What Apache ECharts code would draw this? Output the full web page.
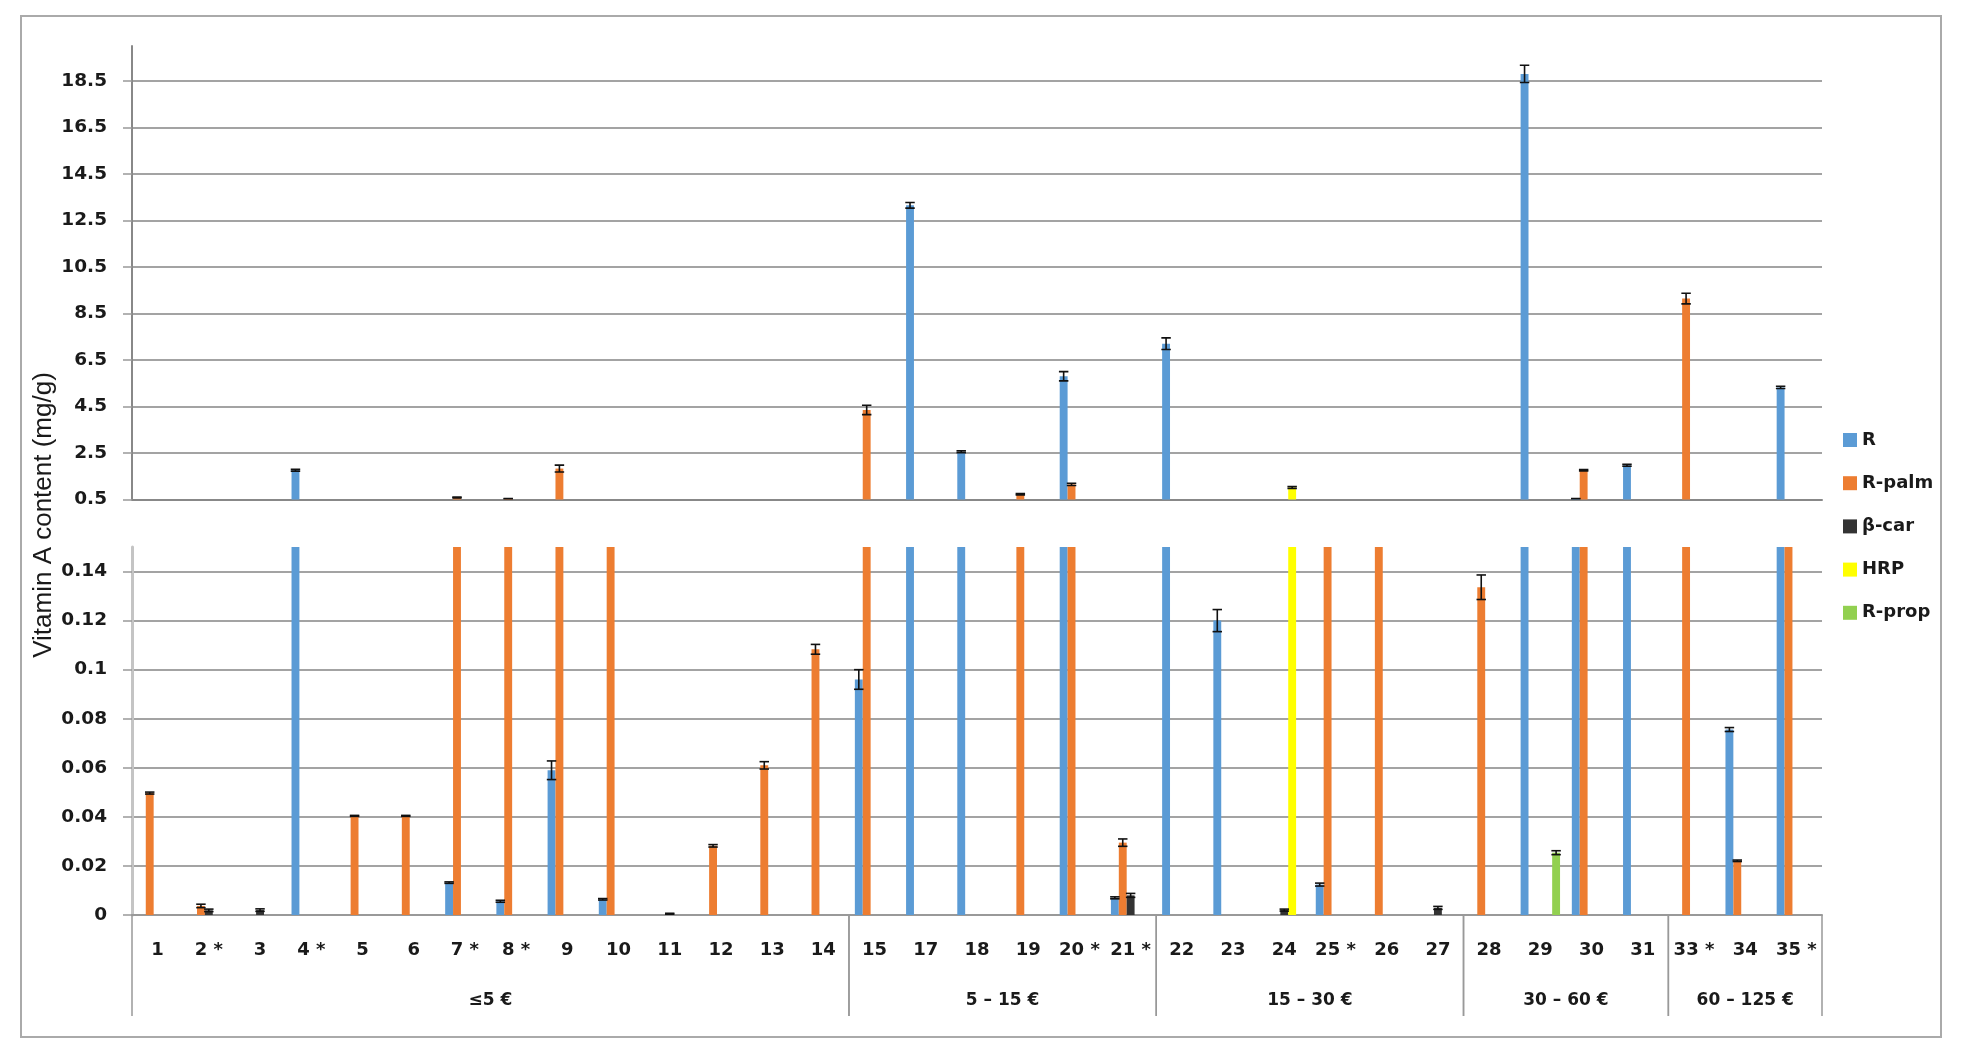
<!DOCTYPE html>
<html><head><meta charset="utf-8">
<script src="https://cdn.jsdelivr.net/npm/echarts@6/dist/echarts.min.js"></script>
<style>html,body{margin:0;padding:0;background:#fff}#c{width:1966px;height:1054px}</style>
</head><body><div id="c"></div>
<script>
// ---- data ----
const categories = ['1','2 *','3','4 *','5','6','7 *','8 *','9','10','11','12','13','14','15','17','18','19','20 *','21 *','22','23','24','25 *','26','27','28','29','30','31','33 *','34','35 *'];
const groupNames = ['≤5 €','5 – 15 €','15 – 30 €','30 – 60 €','60 – 125 €'];
const groupStart = [0,14,20,26,30];
const groupEnd   = [13,19,25,29,32];
const seriesNames = ['R','R-palm','β-car','HRP','R-prop'];
const seriesColors = ['#5B9BD5','#ED7D31','#333333','#FFFF00','#92D050'];

const R        = [null,null,null,1.76,null,null,0.0132,0.0056,0.059,0.0064,null,null,null,null,0.096,13.15,2.55,null,5.8,0.007,7.2,0.12,null,0.0124,null,null,null,18.8,0.53,1.97,null,0.0756,5.32];
const R_err    = [null,null,null,0.04,null,null,0.0003,0.0004,0.0038,0.0003,null,null,null,null,0.004,0.12,0.04,null,0.2,0.0004,0.25,0.0045,null,0.0006,null,null,null,0.37,0.01,0.04,null,0.0008,0.05];
const Rpalm    = [0.0497,0.0037,null,null,0.0404,0.0404,0.59,0.53,1.83,0.3,null,0.0282,0.061,0.1083,4.35,null,null,0.73,1.15,0.0295,null,null,null,0.3,0.35,null,0.1336,null,1.76,null,9.14,0.0221,0.4];
const Rpalm_err= [0.0004,0.0007,null,null,0.0002,0.0002,0.02,0.01,0.15,0.005,null,0.0005,0.0015,0.002,0.2,null,null,0.03,0.05,0.0015,null,null,null,0.01,0.01,null,0.005,null,0.03,null,0.23,0.0003,0.01];
const Bcar     = [null,0.0019,0.002,null,null,null,null,null,null,null,0.0005,null,null,null,null,null,null,null,null,0.008,null,null,0.002,null,null,0.0029,null,null,null,null,null,null,null];
const Bcar_err = [null,0.0005,0.0005,null,null,null,null,null,null,null,0.0002,null,null,null,null,null,null,null,null,0.0008,null,null,0.0004,null,null,0.0006,null,null,null,null,null,null,null];
const HRP      = [null,null,null,null,null,null,null,null,null,null,null,null,null,null,null,null,null,null,null,null,null,null,1.02,null,null,null,null,null,null,null,null,null,null];
const HRP_err  = [null,null,null,null,null,null,null,null,null,null,null,null,null,null,null,null,null,null,null,null,null,null,0.04,null,null,null,null,null,null,null,null,null,null];
const Rprop    = [null,null,null,null,null,null,null,null,null,null,null,null,null,null,null,null,null,null,null,null,null,null,null,null,null,null,null,0.0254,null,null,null,null,null];
const Rprop_err= [null,null,null,null,null,null,null,null,null,null,null,null,null,null,null,null,null,null,null,null,null,null,null,null,null,null,null,0.0008,null,null,null,null,null];

const upperMin = 0.5, upperMax = 20, upperInterval = 2;
const lowerMin = 0, lowerMax = 0.15, lowerInterval = 0.02;

// ---- build ----
const values = [R, Rpalm, Bcar, HRP, Rprop];
const errs = [R_err, Rpalm_err, Bcar_err, HRP_err, Rprop_err];
const CAT_GAP = 0.23;
const NS = 5;

function errData(lo, hi) {
  const out = [];
  values.forEach((arr, s) => arr.forEach((v, i) => {
    const e = errs[s][i];
    if (v != null && e != null && v > lo && v < hi) out.push([i, v, e, s]);
  }));
  return out;
}
function renderErr(params, api) {
  const ci = api.value(0), v = api.value(1), e = api.value(2), s = api.value(3);
  const catW = api.size([1, 0])[0];
  const bw = catW * (1 - CAT_GAP) / NS;
  const x = api.coord([ci, v])[0] + (s - (NS - 1) / 2) * bw;
  const yT = api.coord([ci, v + e])[1];
  const yB = api.coord([ci, Math.max(v - e, 0)])[1];
  const hw = bw * 0.6;
  const st = {stroke: '#111', lineWidth: 1.6};
  return {type: 'group', children: [
    {type: 'line', shape: {x1: x, y1: yT, x2: x, y2: yB}, style: st},
    {type: 'line', shape: {x1: x - hw, y1: yT, x2: x + hw, y2: yT}, style: st},
    {type: 'line', shape: {x1: x - hw, y1: yB, x2: x + hw, y2: yB}, style: st}
  ]};
}
function renderGroups(params, api) {
  const g = params.dataIndex;
  const s = groupStart[g], e = groupEnd[g];
  const catW = api.size([1, 0])[0];
  const x0 = api.coord([s, 0])[0] - catW / 2;
  const x1 = api.coord([e, 0])[0] + catW / 2;
  const y0 = api.coord([s, 0])[1];
  const st = {stroke: '#999', lineWidth: 1.5};
  return {type: 'group', children: [
    {type: 'line', shape: {x1: x0, y1: y0, x2: x0, y2: y0 + 101}, style: st},
    {type: 'line', shape: {x1: x1, y1: y0, x2: x1, y2: y0 + 101}, style: st},
    {type: 'text', x: (x0 + x1) / 2, y: y0 + 86, style: {text: groupNames[g], fill: '#1a1a1a',
      font: 'bold 17px "DejaVu Sans"', align: 'center', verticalAlign: 'middle'}}
  ]};
}

const gridL = 132, gridR = 144;
const tickFont = {fontFamily: 'DejaVu Sans', fontWeight: 'bold', fontSize: 18.5, color: '#1a1a1a'};
const catFont = {fontFamily: 'DejaVu Sans', fontWeight: 'bold', fontSize: 18, color: '#1a1a1a'};

const series = [];
values.forEach((arr, s) => {
  [0, 1].forEach(ax => series.push({
    name: seriesNames[s], type: 'bar', xAxisIndex: ax, yAxisIndex: ax,
    data: arr, barGap: '0%', barCategoryGap: (CAT_GAP * 100) + '%',
    itemStyle: {color: seriesColors[s]}, clip: true, silent: true, animation: false
  }));
});
series.push({type: 'custom', xAxisIndex: 0, yAxisIndex: 0, data: errData(upperMin, Infinity), renderItem: renderErr, clip: true, silent: true, z: 5});
series.push({type: 'custom', xAxisIndex: 1, yAxisIndex: 1, data: errData(-1, lowerMax), renderItem: renderErr, clip: true, silent: true, z: 5});
series.push({type: 'custom', xAxisIndex: 1, yAxisIndex: 1, data: groupNames.map((n, i) => [groupStart[i], 0]), renderItem: renderGroups, clip: false, silent: true, z: 6});

const option = {
  backgroundColor: '#fff',
  animation: false,
  grid: [
    {left: gridL, right: gridR, top: 46, height: 453.5},
    {left: gridL, right: gridR, top: 547, height: 368}
  ],
  xAxis: [
    {type: 'category', gridIndex: 0, data: categories, axisLabel: {show: false}, axisTick: {show: false},
      axisLine: {lineStyle: {color: '#888', width: 2}}},
    {type: 'category', gridIndex: 1, data: categories, axisTick: {show: false},
      axisLine: {lineStyle: {color: '#999', width: 2}},
      axisLabel: Object.assign({margin: 26, interval: 0}, catFont)}
  ],
  yAxis: [
    {type: 'value', gridIndex: 0, min: upperMin, max: upperMax, interval: upperInterval,
      axisLine: {show: true, lineStyle: {color: '#888', width: 2}},
      axisTick: {show: true, length: 9, lineStyle: {color: '#999', width: 1.5}},
      splitLine: {show: true, showMaxLine: false, lineStyle: {color: '#858585', width: 1.7}},
      axisLabel: Object.assign({margin: 25, showMaxLabel: false, formatter: v => v.toFixed(1)}, tickFont)},
    {type: 'value', gridIndex: 1, min: lowerMin, max: lowerMax, interval: lowerInterval,
      axisLine: {show: true, lineStyle: {color: '#c4c4c4', width: 3}},
      axisTick: {show: true, length: 9, lineStyle: {color: '#999', width: 1.5}},
      splitLine: {show: true, showMaxLine: false, lineStyle: {color: '#858585', width: 1.7}},
      axisLabel: Object.assign({margin: 25, showMaxLabel: false}, tickFont)}
  ],
  legend: {
    orient: 'vertical', left: 1838, top: 426, itemWidth: 14, itemHeight: 14, itemGap: 25.2,
    icon: 'rect', data: seriesNames, selectedMode: false,
    textStyle: {fontFamily: 'DejaVu Sans', fontWeight: 'bold', fontSize: 18, color: '#1a1a1a'}
  },
  graphic: [
    {type: 'rect', shape: {x: 21, y: 16, width: 1920, height: 1021}, style: {fill: 'none', stroke: '#aaa', lineWidth: 2}, silent: true, z: -10},
    {type: 'text', x: 44, y: 515, rotation: Math.PI / 2, silent: true,
      style: {text: 'Vitamin A content (mg/g)', fill: '#1a1a1a', font: '26px "Liberation Sans"', align: 'center', verticalAlign: 'middle'}}
  ],
  series: series
};
const chart = echarts.init(document.getElementById('c'), null, {renderer: 'canvas'});
chart.setOption(option);
</script></body></html>
